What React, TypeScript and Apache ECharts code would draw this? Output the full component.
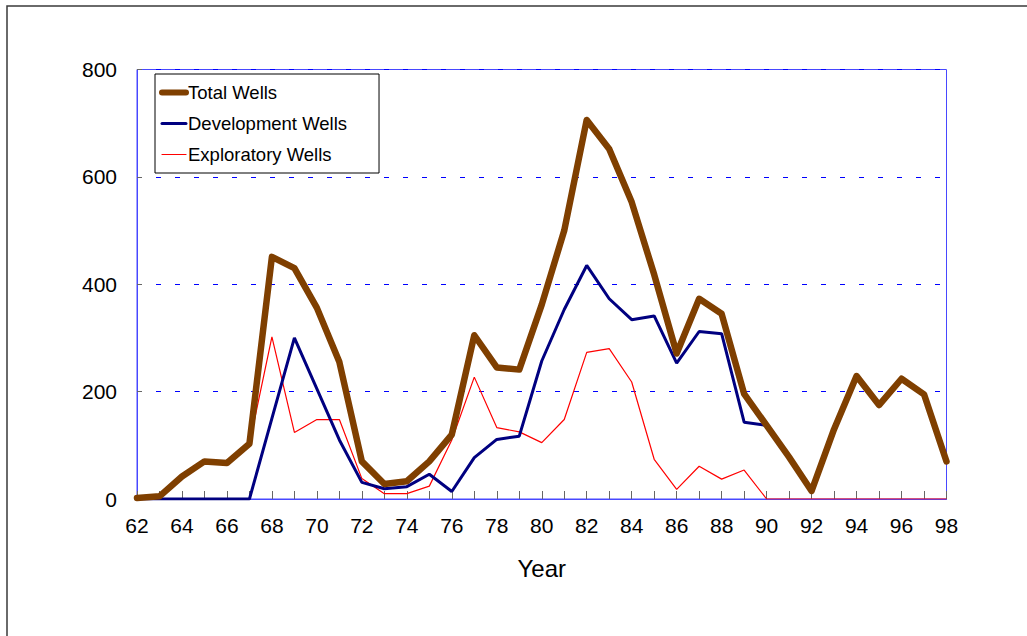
import React, { useEffect, useRef } from "react";
import * as echarts from "echarts";

const years: string[] = [
  "62","63","64","65","66","67","68","69","70","71","72","73","74","75","76","77","78","79","80",
  "81","82","83","84","85","86","87","88","89","90","91","92","93","94","95","96","97","98",
];
const totalWells: number[] = [
  2, 5, 42, 70, 67, 103, 451, 430, 356, 255, 70, 28, 33, 70, 120, 305, 245, 241, 362,
  500, 706, 652, 553, 418, 271, 373, 345, 196, 137, 78, 15, 130, 229, 175, 224, 195, 70,
];
const developmentWells: number[] = [
  0, 0, 0, 0, 0, 0, 150, 300, 205, 110, 31, 19, 23, 46, 14, 77, 111, 117, 257,
  353, 435, 373, 334, 341, 253, 312, 308, 143, 137, 78, 15, 130, 229, 175, 224, 195, 70,
];
const exploratoryWells: number[] = [
  2, 5, 42, 70, 67, 103, 302, 124, 148, 148, 38, 10, 10, 24, 110, 227, 133, 125, 105,
  148, 273, 280, 218, 74, 18, 61, 37, 54, 0, 0, 0, 0, 0, 0, 0, 0, 0,
];
const seriesNames: string[] = ["Total Wells", "Development Wells", "Exploratory Wells"];
const legendLineWidths: number[] = [6, 3, 1.2];

const FONT = "Liberation Sans, Arial, sans-serif";

export default function App() {
  const ref = useRef<HTMLDivElement>(null);
  useEffect(() => {
    if (!ref.current) return;
    const chart = echarts.init(ref.current, undefined, { renderer: "svg" });
    chart.setOption({
      animation: false,
      backgroundColor: "#ffffff",
      textStyle: { fontFamily: FONT, color: "#000" },
      graphic: [
        {
          type: "rect",
          shape: { x: 7, y: 6, width: 1200, height: 800 },
          style: { fill: "none", stroke: "#3a3a3a", lineWidth: 1.5 },
          silent: true,
          z: -10,
        },
      ],
      grid: {
        left: 137,
        right: 80.5,
        top: 69.5,
        bottom: 137,
        show: true,
        borderColor: "#4848ff",
        borderWidth: 1,
        containLabel: false,
      },
      legend: {
        data: seriesNames.map((name, i) => ({
          name,
          lineStyle: { width: legendLineWidths[i], cap: "round" },
        })),
        orient: "vertical",
        left: 155,
        top: 74,
        padding: [9, 32, 9, 4],
        itemWidth: 24,
        itemHeight: 14,
        itemGap: 12,
        backgroundColor: "#ffffff",
        borderColor: "#000000",
        borderWidth: 1,
        itemStyle: { opacity: 0 },
        textStyle: { fontFamily: FONT, fontSize: 18.5, color: "#000", padding: [0, 0, 0, -3] },
      },
      xAxis: {
        type: "category",
        data: years,
        boundaryGap: false,
        name: "Year",
        nameLocation: "middle",
        nameGap: 57,
        nameTextStyle: { fontFamily: FONT, fontSize: 24, color: "#000" },
        axisLine: { show: true, lineStyle: { color: "#4848ff", width: 1 } },
        axisTick: { show: true, inside: true, length: 8, interval: 0, lineStyle: { color: "#666", width: 1 } },
        axisLabel: { interval: 1, margin: 16, fontFamily: FONT, fontSize: 21, color: "#000" },
        splitLine: { show: false },
      },
      yAxis: {
        type: "value",
        min: 0,
        max: 800,
        interval: 200,
        axisLine: { show: true, lineStyle: { color: "#4848ff", width: 1 } },
        axisTick: { show: true, inside: true, length: 5, lineStyle: { color: "#666", width: 1 } },
        axisLabel: { margin: 20, fontFamily: FONT, fontSize: 21, color: "#000" },
        splitLine: { show: true, lineStyle: { color: "#0000ff", width: 1, type: [5, 14] } },
      },
      series: [
        {
          name: "Exploratory Wells",
          type: "line",
          data: exploratoryWells,
          showSymbol: false,
          symbol: "none",
          color: "#ff0000",
          lineStyle: { color: "#ff0000", width: 1.2 },
          z: 2,
        },
        {
          name: "Development Wells",
          type: "line",
          data: developmentWells,
          showSymbol: false,
          symbol: "none",
          color: "#000080",
          lineStyle: { color: "#000080", width: 3 },
          z: 3,
        },
        {
          name: "Total Wells",
          type: "line",
          data: totalWells,
          showSymbol: false,
          symbol: "none",
          color: "#7f3f00",
          lineStyle: { color: "#7f3f00", width: 6.5, cap: "round", join: "round" },
          z: 4,
        },
      ],
    });
    return () => chart.dispose();
  }, []);
  return (
    <div
      ref={ref}
      style={{ position: "fixed", left: 0, top: 0, width: 1027, height: 636, background: "#fff" }}
    />
  );
}
